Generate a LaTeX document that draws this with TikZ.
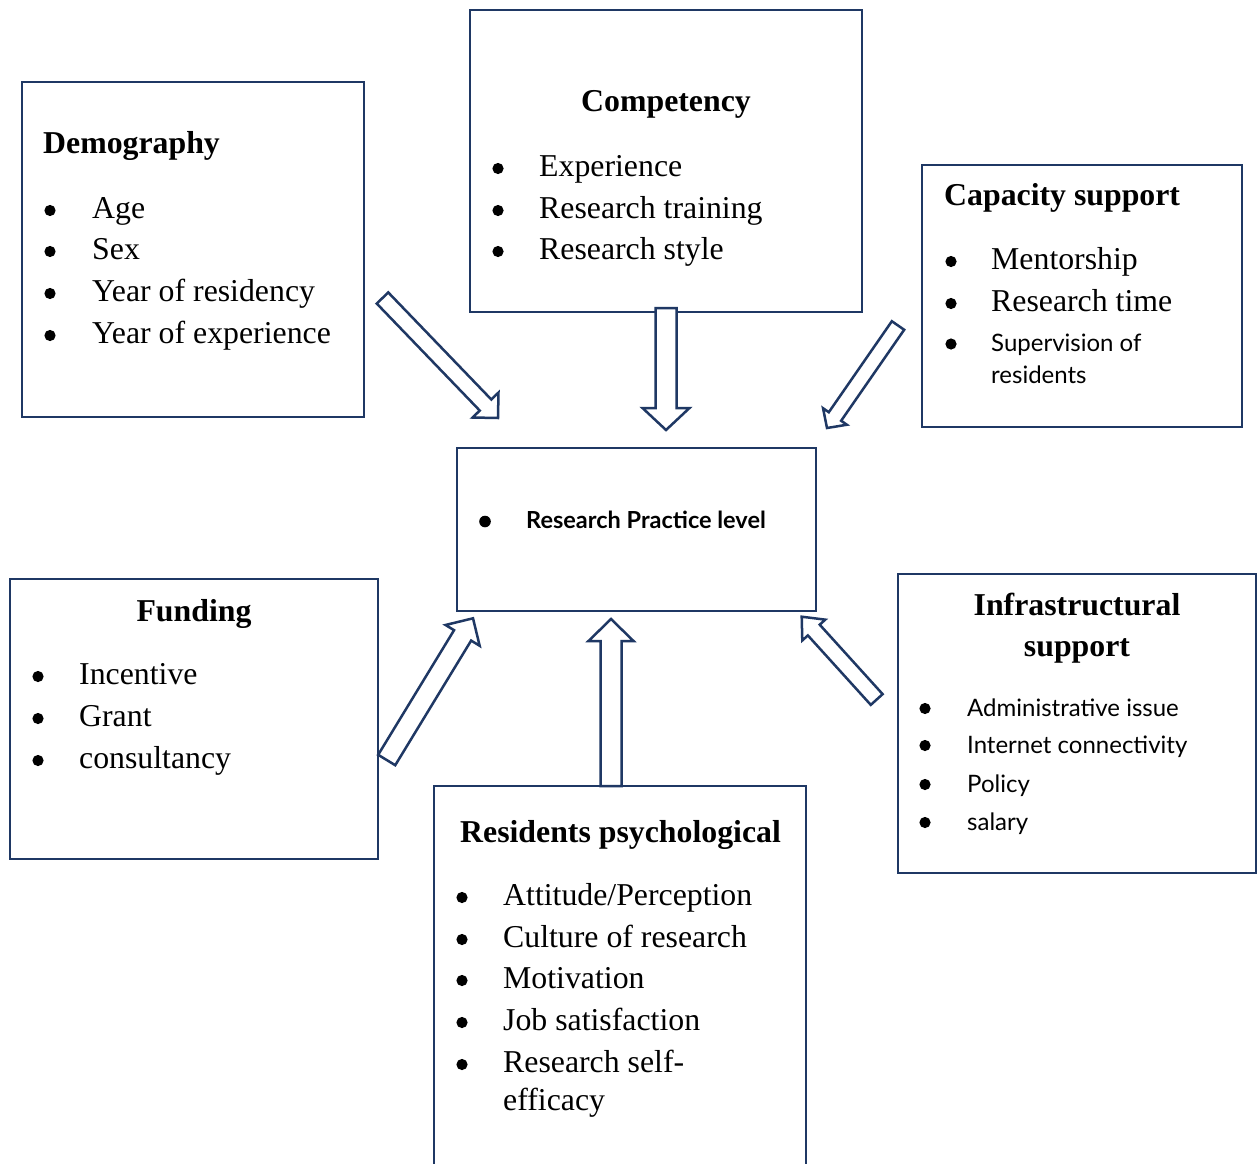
\documentclass[tikz,border=0pt]{standalone}
\usepackage{fontspec}
\setmainfont{Liberation Serif}
\newfontfamily\hsans{Lato}
\usetikzlibrary{calc}
\definecolor{navy}{HTML}{1F3864}
\tikzset{
  box/.style={draw=navy, line width=2.5pt, fill=none, rectangle, inner sep=0pt},
  blk/.style={draw=navy, line width=2.5pt, fill=white, line join=miter},
  txt/.style={anchor=base west, inner sep=0pt, font=\serifsz},
  ttl/.style={inner sep=0pt, font=\serifsz\bfseries},
}
\newcommand\serifsz{\fontsize{31.8}{36}\selectfont}
\newcommand\sanssz{\hsans\fontsize{24}{28}\selectfont}
\newcommand\sansbsz{\hsans\fontsize{23.5}{28}\selectfont\bfseries}
% name, x bullet, x text, baseline, text, font
\newcommand\itm[6]{\fill (#2,#4-7.5) circle (5.6pt);
  \node[txt,font=#6] (#1) at (#3,#4) {#5};}
% name, tail, tip, shaft half width, head half width, head length
\newcommand\blockarrow[6]{%
  \coordinate (#1c) at ($(#3)!#6!(#2)$);
  \draw[blk] ($(#2)!#4!90:(#3)$) -- ($(#1c)!#4!90:(#3)$) -- ($(#1c)!#5!90:(#3)$)
    -- (#3) -- ($(#1c)!#5!-90:(#3)$) -- ($(#1c)!#4!-90:(#3)$) -- ($(#2)!#4!-90:(#3)$) -- cycle;}
\begin{document}
\begin{tikzpicture}[x=1pt,y=-1pt]
\useasboundingbox[fill=white] (0,0) rectangle (1258,1164);

% boxes
\node[box, minimum width=342pt, minimum height=335pt] (demo) at (193,249.5) {};
\node[box, minimum width=392pt, minimum height=302pt] (comp) at (666,161) {};
\node[box, minimum width=320pt, minimum height=262pt] (cap) at (1082,296) {};
\node[box, minimum width=359pt, minimum height=163pt] (ctr) at (636.5,529.5) {};
\node[box, minimum width=368pt, minimum height=280pt] (fund) at (194,719) {};
\node[box, minimum width=372pt, minimum height=404pt] (resid) at (620,988) {};
\node[box, minimum width=358pt, minimum height=299pt] (infra) at (1077,723.5) {};

% Demography
\node[ttl, anchor=base west] (demoT) at (43,153) {Demography};
\itm{d1}{50}{92}{218}{Age}{\serifsz}
\itm{d2}{50}{92}{259}{Sex}{\serifsz}
\itm{d3}{50}{92}{301}{Year of residency}{\serifsz}
\itm{d4}{50}{92}{343}{Year of experience}{\serifsz}

% Competency
\node[ttl, anchor=base] (compT) at (666,111) {Competency};
\itm{c1}{498}{539}{176}{Experience}{\serifsz}
\itm{c2}{498}{539}{218}{Research training}{\serifsz}
\itm{c3}{498}{539}{259}{Research style}{\serifsz}

% Capacity support
\node[ttl, anchor=base west] (capT) at (944,205) {Capacity support};
\itm{k1}{951}{991}{269}{Mentorship}{\serifsz}
\itm{k2}{951}{991}{311}{Research time}{\serifsz}
\itm{k3}{951}{991}{351.5}{Supervision of}{\sanssz}
\node[txt, font=\sanssz] (k4) at (991,383.5) {residents};

% Center
\fill (485,521.5) circle (5.8pt);
\node[txt, font=\sansbsz] (ctrT) at (526,528) {Research Practice level};

% Funding
\node[ttl, anchor=base] (fundT) at (194,621) {Funding};
\itm{f1}{38}{79}{684}{Incentive}{\serifsz}
\itm{f2}{38}{79}{726}{Grant}{\serifsz}
\itm{f3}{38}{79}{768}{consultancy}{\serifsz}

% Residents psychological
\node[ttl, anchor=base west] (residT) at (460,842) {Residents psychological};
\itm{r1}{462}{503}{905}{Attitude/Perception}{\serifsz}
\itm{r2}{462}{503}{947}{Culture of research}{\serifsz}
\itm{r3}{462}{503}{988}{Motivation}{\serifsz}
\itm{r4}{462}{503}{1030}{Job satisfaction}{\serifsz}
\itm{r5}{462}{503}{1072}{Research self-}{\serifsz}
\node[txt] (r6) at (503,1110) {efficacy};

% Infrastructural support
\node[ttl, anchor=base] (infraT1) at (1077,615) {Infrastructural};
\node[ttl, anchor=base] (infraT2) at (1077,656) {support};
\itm{i1}{925}{967}{716}{Administrative issue}{\sanssz}
\itm{i2}{925}{967}{753}{Internet connectivity}{\sanssz}
\itm{i3}{925}{967}{792}{Policy}{\sanssz}
\itm{i4}{925}{967}{830}{salary}{\sanssz}

% arrows
\coordinate (a1s) at (382.5,298);  \coordinate (a1e) at (498,418);
\coordinate (a2s) at (666,308);    \coordinate (a2e) at (666,430);
\coordinate (a3s) at (898,325.5);  \coordinate (a3e) at (827,428);
\coordinate (a4s) at (386.7,760);  \coordinate (a4e) at (473,618.3);
\coordinate (a5s) at (611,786);    \coordinate (a5e) at (611,619);
\coordinate (a6s) at (876.7,699.5);\coordinate (a6e) at (801.7,616.7);
\blockarrow{a1}{a1s}{a1e}{8pt}{18pt}{18pt}
\blockarrow{a2}{a2s}{a2e}{10.5pt}{23.5pt}{22pt}
\blockarrow{a3}{a3s}{a3e}{7.5pt}{14.5pt}{14pt}
\blockarrow{a4}{a4s}{a4e}{10pt}{20pt}{20pt}
\blockarrow{a5}{a5s}{a5e}{10.5pt}{22.5pt}{22pt}
\blockarrow{a6}{a6s}{a6e}{8pt}{15.5pt}{18pt}
\end{tikzpicture}
\end{document}
